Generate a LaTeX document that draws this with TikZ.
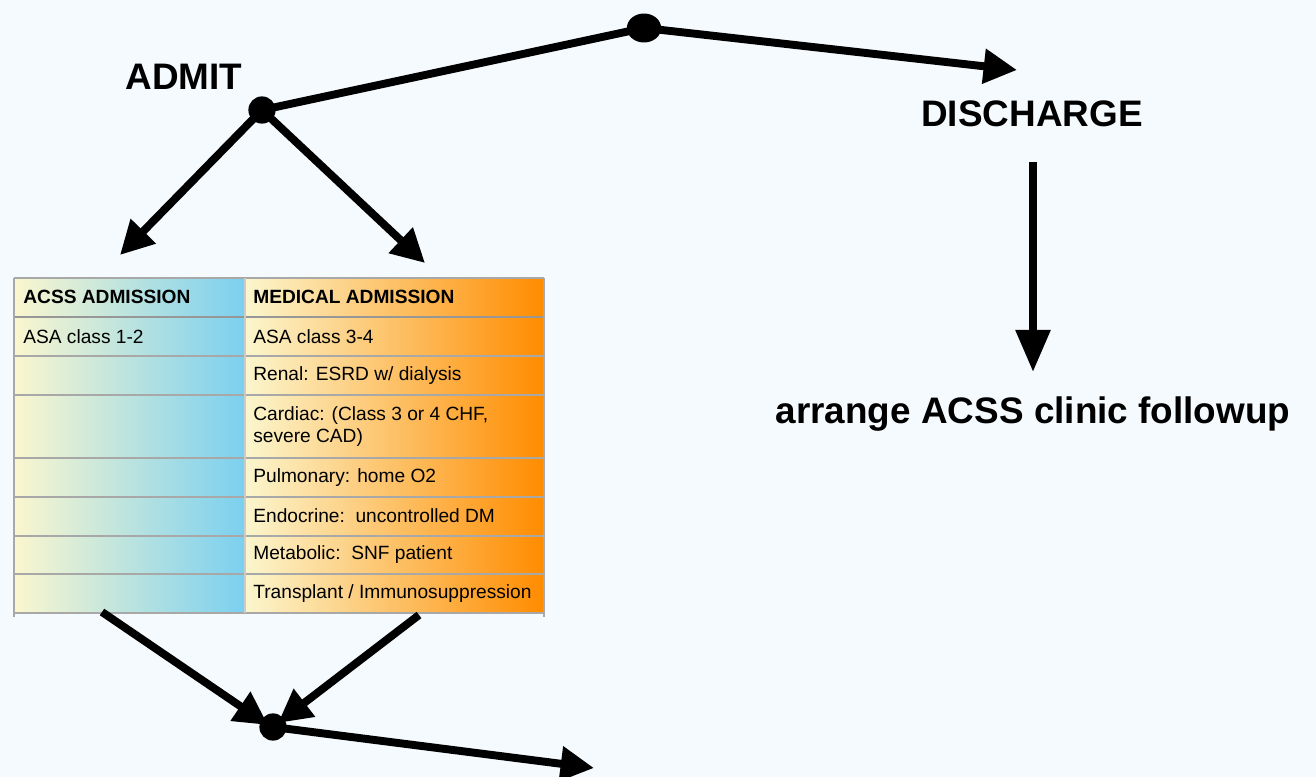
\documentclass[tikz,border=0pt]{standalone}
\usepackage{fontspec}
\setmainfont{Liberation Sans}
\usetikzlibrary{arrows.meta, shapes.geometric}

\definecolor{pagebg}{RGB}{245,250,254}
\definecolor{paleyellow}{RGB}{251,246,206}
\definecolor{softgreen}{RGB}{206,232,200}
\definecolor{skyblue}{RGB}{122,208,240}
\definecolor{softorange}{RGB}{253,214,140}
\definecolor{deeporange}{RGB}{255,140,0}
\definecolor{gridgray}{RGB}{168,168,168}

\tikzset{
  flow/.style={line width=4.5pt, -{Triangle[length=19pt, width=19pt]}},
  plain/.style={line width=4.5pt},
  dot/.style={circle, fill=black, inner sep=0pt, minimum size=15.5pt},
  title/.style={font=\fontsize{21pt}{25pt}\selectfont\bfseries},
  cell/.style={anchor=west, inner sep=0pt, font=\fontsize{10.9pt}{12.5pt}\selectfont, align=left},
  headcell/.style={cell, font=\fontsize{10.9pt}{12.5pt}\selectfont\bfseries},
  rule/.style={draw=gridgray, line width=0.9pt}
}

\begin{document}
\begin{tikzpicture}[x=0.02cm, y=-0.02cm]
    \useasboundingbox[fill=pagebg] (0,0) rectangle (1316,777);

    % Table
    \shade[left color=paleyellow, middle color=softgreen, right color=skyblue] (14,278) rectangle (245,613);
    \shade[left color=paleyellow, middle color=softorange, right color=deeporange] (245,278) rectangle (544,613);
    \foreach \y in {278,356,395,458,497,536,574,613}
      \draw[rule] (14,\y) -- (544,\y);
    \draw[rule, draw=gridgray!120] (14,317) -- (544,317);
    \draw[rule] (14,278) -- (14,617);
    \draw[rule] (544,278) -- (544,617);
    \draw[rule, draw=gridgray!60] (245,278) -- (245,613);

    \node[headcell] at (23,297) (acss) {ACSS ADMISSION};
    \node[headcell] at (253,297) (medical) {MEDICAL ADMISSION};
    \node[cell] at (23,337) (asalow) {ASA class 1-2};
    \node[cell] at (253,337) (asahigh) {ASA class 3-4};
    \node[cell] at (253,376) (renal) {Renal: ESRD w/ dialysis};
    \node[cell] at (253,427) (cardiac) {Cardiac: (Class 3 or 4 CHF,\\severe CAD)};
    \node[cell] at (253,478) (pulm) {Pulmonary: home O2};
    \node[cell] at (253,516) (endo) {Endocrine:\ \ uncontrolled DM};
    \node[cell] at (253,555) (metab) {Metabolic:\ \ SNF patient};
    \node[cell] at (253,594) (transplant) {Transplant / Immunosuppression};

    % Nodes
    \node[title] at (184,77) (admit) {ADMIT};
    \node[title] at (1032,114) (discharge) {DISCHARGE};
    \node[title] at (1033,414) (followup) {arrange ACSS clinic followup};

    \node[dot] at (262,110) (admitdot) {};
    \node[dot, ellipse, minimum width=19.5pt, minimum height=16.5pt] at (644,28) (topdot) {};
    \node[dot] at (273,727) (joindot) {};

    \coordinate (acsstip) at (120,255);
    \coordinate (medtip) at (425,263);
    \coordinate (dischtip) at (1017,70);
    \coordinate (acssout) at (102,612);
    \coordinate (medout) at (419,615);
    \coordinate (followtop) at (1033,162);
    \coordinate (followtip) at (1033,372);
    \coordinate (endtip) at (594,768);

    % Connectors
    \draw[plain] (admitdot.center) -- (topdot.center);
    \draw[flow] (topdot.center) -- (dischtip);
    \draw[flow] (admitdot.center) -- (acsstip);
    \draw[flow] (admitdot.center) -- (medtip);
    \draw[line width=4.5pt, -{Triangle[length=24pt, width=19pt]}] (followtop) -- (followtip);
    \draw[flow] (acssout) -- (268,725);
    \draw[flow] (medout) -- (278,723);
    \draw[flow] (joindot.center) -- (endtip);
  \end{tikzpicture}
\end{document}
